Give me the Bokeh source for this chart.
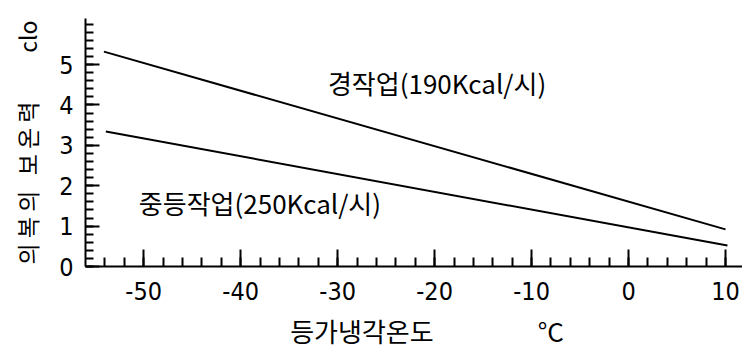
import numpy as np
from bokeh.plotting import figure
from bokeh.models import FixedTicker, Label
from bokeh.embed import file_html
from bokeh.resources import INLINE

# data
series_names = ["경작업(190Kcal/시)", "중등작업(250Kcal/시)"]
light_x = [-54.1, 10.0]
light_y = [5.32, 0.92]
medium_x = [-53.9, 10.2]
medium_y = [3.34, 0.52]
x_major = [-50, -40, -30, -20, -10, 0, 10]
x_labels = ["-50", "-40", "-30", "-20", "-10", "0", "10"]
y_major = [0, 1, 2, 3, 4, 5]
y_labels = ["0", "1", "2", "3", "4", "5"]
NB = "\u00a0"
x_title = "\u3000등가냉각온도\u3000\u3000\u3000\u3000°C"
y_title = ("의" + NB + "복" + NB + "의" + NB * 3 + "보" + NB + "온" + NB + "력"
           + "\u3000" + NB * 5 + "clo")

KFONT = "Noto Sans CJK KR"
NFONT = "DejaVu Sans Condensed"

p = figure(frame_width=657, frame_height=248, output_backend="svg", toolbar_location=None,
           x_range=(-56, 11.75), y_range=(0, 6.14),
           min_border_left=85, min_border_right=0, min_border_top=18, min_border_bottom=0)
p.grid.visible = False
p.outline_line_color = None
p.background_fill_color = "white"

p.line(light_x, light_y, line_color="black", line_width=2)
p.line(medium_x, medium_y, line_color="black", line_width=2)

xt = FixedTicker(ticks=x_major, minor_ticks=list(np.arange(-54, 11, 2)))
yt = FixedTicker(ticks=y_major, minor_ticks=[round(v, 1) for v in np.arange(0, 6.01, 0.2)])
p.xaxis.ticker = xt
p.yaxis.ticker = yt
p.xaxis.major_label_overrides = {v: s for v, s in zip(x_major, x_labels)}
p.yaxis.major_label_overrides = {v: s for v, s in zip(y_major, y_labels)}

for ax in (p.xaxis[0], p.yaxis[0]):
    ax.axis_line_width = 2
    ax.axis_line_color = "black"
    ax.major_tick_line_width = 2
    ax.minor_tick_line_width = 2
    ax.major_tick_line_color = "black"
    ax.minor_tick_line_color = "black"
    ax.major_tick_out = 0
    ax.minor_tick_out = 0
    ax.major_label_text_font = NFONT
    ax.major_label_text_font_size = "25px"
    ax.major_label_text_color = "black"
    ax.axis_label_text_font = KFONT
    ax.axis_label_text_font_style = "normal"
    ax.axis_label_text_color = "black"

p.xaxis.major_tick_in = 17
p.xaxis.minor_tick_in = 9
p.yaxis.major_tick_in = 14
p.yaxis.minor_tick_in = 8
p.xaxis.major_label_standoff = 15
p.yaxis.major_label_standoff = 12

p.xaxis.axis_label = x_title
p.xaxis.axis_label_text_font_size = "26px"
p.xaxis.axis_label_standoff = 9
p.yaxis.axis_label = y_title
p.yaxis.axis_label_text_font_size = "23px"
p.yaxis.axis_label_standoff = 12

# annotations
p.add_layout(Label(x=-31.0, y=4.55, text=series_names[0], text_font=KFONT,
                   text_font_size="26px", text_align="left", text_baseline="middle",
                   text_color="black"))
p.add_layout(Label(x=-50.5, y=1.58, text=series_names[1], text_font=KFONT,
                   text_font_size="26px", text_align="left", text_baseline="middle",
                   text_color="black"))

open("out.html", "w").write(file_html(p, INLINE))
